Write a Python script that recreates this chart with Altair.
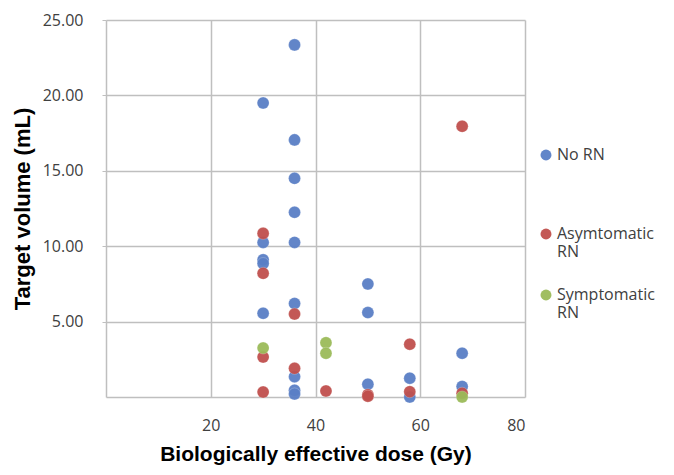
import altair as alt
import pandas as pd

# Data
no_rn_x = [36, 30, 36, 36, 36, 30, 36, 30, 30, 36, 30, 50, 50, 36, 36, 36, 50, 58, 58, 68, 68]
no_rn_y = [23.35, 19.5, 17.05, 14.5, 12.25, 10.25, 10.25, 9.1, 8.85, 6.2, 5.55, 7.5, 5.6, 1.35, 0.45, 0.2, 0.85, 1.25, 0.0, 2.9, 0.7]

asym_x = [68, 30, 30, 36, 58, 30, 36, 30, 42, 50, 50, 58, 68]
asym_y = [17.95, 10.85, 8.2, 5.5, 3.5, 2.65, 1.9, 0.33, 0.4, 0.15, 0.05, 0.35, 0.25]

symp_x = [30, 42, 42, 68]
symp_y = [3.25, 3.6, 2.9, 0.0]

series = ["No RN", "Asymtomatic RN", "Symptomatic RN"]
colors = ["#5A7FC6", "#C0504D", "#9BBB59"]

rows = []
for name, xs, ys in zip(series, [no_rn_x, asym_x, symp_x], [no_rn_y, asym_y, symp_y]):
    for x, y in zip(xs, ys):
        rows.append({"dose": x, "volume": y, "group": name})
df = pd.DataFrame(rows)

x_ticks = [20, 40, 60, 80]
y_ticks = [5, 10, 15, 20, 25]

chart = alt.Chart(df).mark_circle(size=145, opacity=0.95, stroke="#FFFFFF", strokeWidth=0.6, strokeOpacity=0.4).encode(
    x=alt.X("dose:Q",
            scale=alt.Scale(domain=[0, 80], nice=False, zero=True),
            axis=alt.Axis(values=x_ticks, title="Biologically effective dose (Gy)",
                          labelPadding=20, titlePadding=10, tickSize=0, titleFontSize=21)),
    y=alt.Y("volume:Q",
            scale=alt.Scale(domain=[0, 25], nice=False),
            axis=alt.Axis(values=y_ticks, format=".2f", title="Target volume (mL)",
                          labelPadding=19, titlePadding=8, tickSize=4, titleFontSize=22)),
    color=alt.Color("group:N",
                    scale=alt.Scale(domain=series, range=colors),
                    sort=series,
                    legend=alt.Legend(title=None, orient="none", legendX=432, legendY=127,
                                      labelExpr="datum.label == 'No RN' ? [datum.label, '', ''] : split(datum.label, ' ')",
                                      symbolType="circle", symbolSize=120, symbolStrokeWidth=0,
                                      labelFont="Open Sans", labelFontSize=16, labelColor="#404040",
                                      rowPadding=27, labelOffset=3, labelLimit=200)),
    order=alt.Order("group_order:Q"),
).transform_calculate(
    group_order="datum.group == 'No RN' ? 0 : (datum.group == 'Asymtomatic RN' ? 1 : 2)"
).properties(
    width=419, height=377,
    autosize=alt.AutoSizeParams(type="none"),
    padding={"left": 98, "top": 12, "right": 140, "bottom": 70},
).configure_view(
    stroke=None
).configure_axis(
    grid=True, gridColor="#BFBFBF", gridWidth=1.5,
    domainColor="#BFBFBF", domainWidth=1.5, tickColor="#BFBFBF",
    labelFont="Open Sans", labelFontSize=16, labelColor="#404040",
    titleFont="Liberation Sans", titleFontWeight="bold", titleColor="#000000",
)

chart.save("out.html", embed_options={"renderer": "svg", "actions": False})
